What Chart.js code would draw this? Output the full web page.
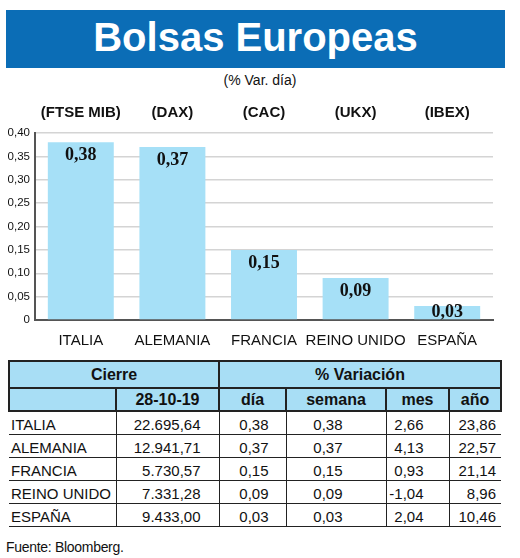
<!DOCTYPE html>
<html>
<head>
<meta charset="utf-8">
<script src="https://cdn.jsdelivr.net/npm/chart.js@4"></script>
<style>
    body{margin:0;background:#fff;width:520px;height:558px;position:relative;overflow:hidden;font-family:"Liberation Sans",sans-serif;color:#111}
    #titleBox{position:absolute;left:6px;top:10px;width:499px;height:58px;background:#0b6db6;color:#fff;font-weight:bold;font-size:40px;text-align:center;line-height:54px}
    #subTitle{position:absolute;left:0;top:72px;width:520px;text-align:center;font-size:14px}
    #chartBox{position:absolute;left:0;top:95px;width:520px;height:255px}
    #dataTable{position:absolute;left:8px;top:360px;width:492px;border-collapse:collapse;font-size:15px;white-space:nowrap;table-layout:fixed}
    #dataTable th{background:#a8def5;font-weight:bold;border:2px solid #222;padding:0;font-size:16px}
    #dataTable thead tr:first-child th{height:25px}
    #dataTable thead tr:last-child th{height:21px}
    #dataTable td{border-bottom:1px solid #222;border-left:1px solid #222;height:22px;padding:0;text-align:right;line-height:18px;vertical-align:bottom}
    #dataTable td:first-child{border-left:none;text-align:left;padding-left:2px}
    #source{position:absolute;left:6px;top:539px;font-size:14px;letter-spacing:-0.3px}
</style>
</head>
<body>
<div id="titleBox">Bolsas Europeas</div>
<div id="subTitle">(% Var. día)</div>
<div id="chartBox"><canvas id="barChart" width="520" height="255"></canvas></div>
<table id="dataTable">
    <colgroup id="cols"></colgroup>
    <thead>
        <tr><th colspan="2">Cierre</th><th colspan="4">% Variación</th></tr>
        <tr id="headRow"></tr>
    </thead>
    <tbody></tbody>
</table>
<div id="source">Fuente: Bloomberg.</div>
<script>
// chart data
const paises = ["ITALIA", "ALEMANIA", "FRANCIA", "REINO UNIDO", "ESPAÑA"];
const indices = ["(FTSE MIB)", "(DAX)", "(CAC)", "(UKX)", "(IBEX)"];
const varDia = [0.38, 0.37, 0.15, 0.09, 0.03];
const yTicks = [0, 0.05, 0.10, 0.15, 0.20, 0.25, 0.30, 0.35, 0.40];

// table data
const columnas = ["", "28-10-19", "día", "semana", "mes", "año"];
const cierre = ["22.695,64", "12.941,71", "5.730,57", "7.331,28", "9.433,00"];
const varSemana = [0.38, 0.37, 0.15, 0.09, 0.03];
const varMes = [2.66, 4.13, 0.93, -1.04, 2.04];
const varAnio = [23.86, 22.57, 21.14, 8.96, 10.46];

function fmt(v){
    return v.toFixed(2).replace(".", ",");
}

// build table
const colPad = [0, 18, 17, 43, 25, 5];
const colWidth = [107, 103, 67, 100, 63, 52];
$ = s => document.querySelector(s);
$("#cols").innerHTML = colWidth.map(w => `<col style="width:${w}px">`).join("");
$("#headRow").innerHTML = columnas.map(c => `<th>${c}</th>`).join("");
let rows = [];
paises.forEach((p, i) => {
    let vals = [p, cierre[i], fmt(varDia[i]), fmt(varSemana[i]), fmt(varMes[i]), fmt(varAnio[i])];
    rows.push("<tr>" + vals.map((v, j) => `<td style="padding-right:${colPad[j]}px">${v}</td>`).join("") + "</tr>");
});
$("#dataTable tbody").innerHTML = rows.join("");

// value labels on top of bars
const valueLabels = {
    id: "valueLabels",
    afterDatasetsDraw(chart){
        const ctx = chart.ctx;
        ctx.save();
        ctx.font = "bold 18px 'Liberation Serif', serif";
        ctx.fillStyle = "#111";
        ctx.textAlign = "center";
        ctx.textBaseline = "top";
        chart.getDatasetMeta(0).data.forEach((bar, i) => {
            let y = Math.min(bar.y + 4, bar.base - 16);
            ctx.fillText(fmt(varDia[i]), bar.x, y);
        });
        ctx.restore();
    }
};

const sans = "'Liberation Sans', sans-serif";
new Chart(document.getElementById("barChart"), {
    type: "bar",
    data: {
        labels: paises,
        datasets: [{
            data: varDia,
            backgroundColor: "#a6e0f7",
            categoryPercentage: 1,
            barPercentage: 0.72
        }]
    },
    options: {
        responsive: false,
        animation: false,
        layout: {padding: {left: 0, right: 27, top: 0, bottom: 0}},
        plugins: {legend: {display: false}, tooltip: {enabled: false}},
        scales: {
            x: {
                position: "bottom",
                grid: {display: false},
                border: {color: "#555", width: 2},
                ticks: {color: "#111", font: {family: sans, size: 15}, padding: 4, minRotation: 0, maxRotation: 0, autoSkip: false},
                afterFit: s => { s.height = 30; }
            },
            xTop: {
                type: "category",
                position: "top",
                labels: indices,
                offset: true,
                grid: {display: false},
                border: {display: false},
                ticks: {color: "#111", font: {family: sans, size: 15, weight: "bold"}, padding: 3, maxRotation: 0, autoSkip: false},
                afterFit: s => { s.height = 38; }
            },
            y: {
                min: yTicks[0],
                max: yTicks[yTicks.length - 1],
                afterBuildTicks: s => { s.ticks = yTicks.map(v => ({value: v})); },
                grid: {color: "#d4d4d4", lineWidth: 1.5, drawTicks: false},
                border: {color: "#555", width: 2},
                ticks: {
                    color: "#111",
                    font: {family: sans, size: 11.5},
                    padding: 5,
                    callback: v => v === 0 ? "0" : fmt(v)
                },
                afterFit: s => { s.width = 35; }
            }
        }
    },
    plugins: [valueLabels]
});
</script>
</body>
</html>
